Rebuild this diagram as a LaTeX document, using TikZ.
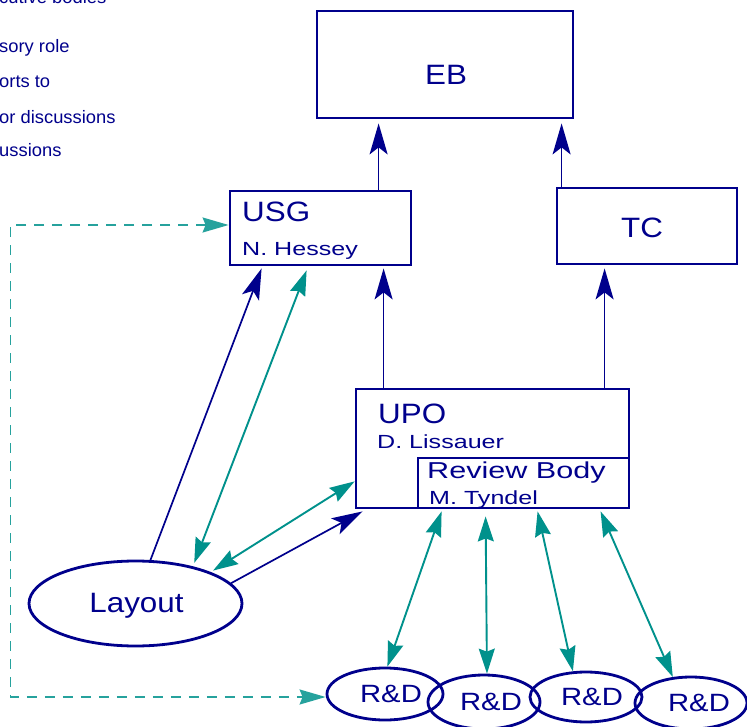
\documentclass[tikz,border=0pt]{standalone}
\usepackage{fontspec}
\setmainfont{Liberation Sans}
\newfontfamily\fbig[FakeStretch=1.12]{Liberation Sans}
\newfontfamily\fmid[FakeStretch=1.33]{Liberation Sans}
\newfontfamily\fsmall[FakeStretch=1.32]{Liberation Sans}
\newfontfamily\frd[FakeStretch=1.17]{Liberation Sans}
\newfontfamily\fkey[FakeStretch=1.02]{Liberation Sans}
\usetikzlibrary{arrows.meta,shapes.geometric,calc}
\definecolor{navy}{RGB}{0,0,140}
\definecolor{tealc}{RGB}{0,145,140}

\tikzset{
  boxn/.style={draw=navy, line width=2.8pt, rectangle, inner sep=0pt},
  subbox/.style={draw=navy, line width=1.3pt, rectangle, inner sep=0pt},
  ovaln/.style={draw=navy, line width=2.8pt, ellipse, inner sep=0pt},
  bigtxt/.style={text=navy, inner sep=0pt, font=\fbig\fontsize{28}{30}\selectfont},
  midtxt/.style={text=navy, inner sep=0pt, font=\fmid\fontsize{23}{25}\selectfont},
  smalltxt/.style={text=navy, inner sep=0pt, font=\fsmall\fontsize{19}{21}\selectfont},
  rdtxt/.style={text=navy, inner sep=0pt, font=\frd\fontsize{25}{27}\selectfont},
  keytxt/.style={text=navy, inner sep=0pt, font=\fkey\fontsize{18}{20}\selectfont},
  reports/.style={draw=navy, line width=1.7pt, -{Stealth[length=31pt,width=18pt,inset=7pt]}},
  discuss/.style={draw=tealc, line width=1.9pt,
    {Stealth[length=25pt,width=16pt,inset=3pt]}-{Stealth[length=25pt,width=16pt,inset=3pt]}},
  dashlink/.style={draw=tealc!85, line width=1.6pt, dash pattern=on 10pt off 8pt,
    {Stealth[length=26pt,width=15pt,inset=3pt]}-{Stealth[length=26pt,width=15pt,inset=3pt]}},
}

\begin{document}
\begin{tikzpicture}[x=1pt,y=-1pt]
\useasboundingbox (0,0) rectangle (747,727);
\fill[white] (0,0) rectangle (747,727);
\clip (0,0) rectangle (747,727);

% key, partly outside the frame
\node[keytxt, anchor=base west] (k1) at (-1,4) {cutive bodies};
\node[keytxt, anchor=base west] (k2) at (-1,53) {sory role};
\node[keytxt, anchor=base west] (k3) at (-1,88) {orts to};
\node[keytxt, anchor=base west] (k4) at (-1,124) {or discussions};
\node[keytxt, anchor=base west] (k5) at (-1,157) {ussions};

% boxes
\node[boxn, minimum width=256pt, minimum height=107pt] (eb) at (445,64.5) {};
\node[boxn, minimum width=181pt, minimum height=74pt] (usg) at (320.5,228) {};
\node[boxn, minimum width=180pt, minimum height=76pt] (tc) at (647,226) {};
\node[boxn, minimum width=273pt, minimum height=119pt] (upo) at (492.5,448.5) {};
\node[subbox, minimum width=211pt, minimum height=50pt] (rb) at (523.5,483) {};

% ovals
\node[ovaln, minimum width=213pt, minimum height=85pt] (lay) at (135.5,603.5) {};
\node[ovaln, minimum width=116pt, minimum height=52pt] (rd1) at (385,694) {};
\node[ovaln, minimum width=112pt, minimum height=54pt] (rd2) at (484,702) {};
\node[ovaln, minimum width=112pt, minimum height=50pt] (rd3) at (586,697) {};
\node[ovaln, minimum width=112pt, minimum height=52pt] (rd4) at (691,703) {};

% labels
\node[bigtxt, anchor=base] (ebt) at (446,85) {EB};
\node[bigtxt, anchor=base] (tct) at (642,238) {TC};
\node[bigtxt, anchor=base west] (usgt) at (242,222) {USG};
\node[smalltxt, anchor=base west] (usgn) at (242,256) {N. Hessey};
\node[bigtxt, anchor=base west] (upot) at (378,423) {UPO};
\node[smalltxt, anchor=base west] (upon) at (377,448) {D. Lissauer};
\node[midtxt, anchor=base west] (rbt) at (427,478) {Review Body};
\node[smalltxt, anchor=base west] (rbn) at (429,504) {M. Tyndel};
\node[bigtxt, anchor=base] (layt) at (136.5,612) {Layout};
\node[rdtxt, anchor=base] (rdt1) at (391,702) {R\&D};
\node[rdtxt, anchor=base] (rdt2) at (491,710) {R\&D};
\node[rdtxt, anchor=base] (rdt3) at (592,705) {R\&D};
\node[rdtxt, anchor=base] (rdt4) at (699,711) {R\&D};

% reporting lines
\draw[reports] ($(usg.north west)+(150,0)$) -- ($(eb.south west)+(63,4)$);
\draw[reports] ($(tc.north west)+(6,0)$) -- ($(eb.south west)+(246,4)$);
\draw[reports] ($(upo.north west)+(29,0)$) -- ($(usg.south west)+(155,2)$);
\draw[reports] ($(upo.north west)+(250,0)$) -- ($(tc.south west)+(49,3)$);
\draw[reports] (lay.71) -- ($(usg.south west)+(33,2)$);
\draw[reports] (lay.12) -- ($(upo.south west)+(8,2)$);

% discussion links
\draw[discuss] ($(usg.south west)+(78,4)$) -- ($(lay.34)+(3,-3)$);
\draw[discuss] ($(upo.south west)+(0,-28)$) -- ($(lay.22)+(1,-2)$);
\draw[discuss] ($(upo.south west)+(87,2)$) -- (rd1.85);
\draw[discuss] ($(upo.south west)+(131,7)$) -- (rd2.84);
\draw[discuss] ($(upo.south west)+(183,2)$) -- (rd3.117);
\draw[discuss] ($(upo.south west)+(246,2)$) -- (rd4.125);

% dashed link round the left side
\coordinate (dashx) at (10.5,0);
\draw[dashlink] ([yshift=3pt]usg.west) -- ([yshift=3pt]usg.west -| dashx)
  -- ([yshift=-3pt]rd1.west -| dashx) -- ([yshift=-3pt]rd1.west);
\end{tikzpicture}
\end{document}
